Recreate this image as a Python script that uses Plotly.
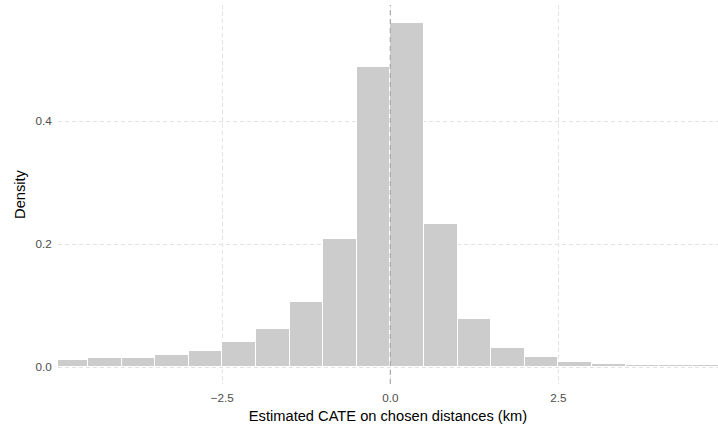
import plotly.graph_objects as go

# Histogram data (bin width 0.5)
bin_start = [-5.0, -4.5, -4.0, -3.5, -3.0, -2.5, -2.0, -1.5, -1.0, -0.5,
             0.0, 0.5, 1.0, 1.5, 2.0, 2.5, 3.0, 3.5, 4.0, 4.5]
density = [0.0122, 0.0148, 0.0159, 0.0197, 0.0272, 0.0414, 0.0630, 0.1062,
           0.2090, 0.4886, 0.5596, 0.2330, 0.0786, 0.0316, 0.0160, 0.0082,
           0.0054, 0.0044, 0.0044, 0.0034]
bin_width = 0.5

x_ticks = [-2.5, 0.0, 2.5]
y_ticks = [0.0, 0.2, 0.4]

centers = [b + bin_width / 2 for b in bin_start]

FONT = "Liberation Sans, Arial, Helvetica, sans-serif"

fig = go.Figure()
fig.add_trace(go.Bar(
    x=centers, y=density, width=bin_width,
    marker=dict(color="#cccccc", line=dict(color="white", width=1.0)),
    hoverinfo="skip", showlegend=False,
))

fig.add_vline(x=0, line=dict(color="#a8a8a8", width=1.2, dash="5px,4px"), layer="above")

fig.update_layout(
    width=718, height=430,
    margin=dict(l=58, r=0, t=5, b=46),
    paper_bgcolor="white", plot_bgcolor="white",
    font=dict(family=FONT, size=12, color="#4d4d4d"),
    bargap=0,
    xaxis=dict(
        range=[-4.945, 4.876], automargin=False,
        tickvals=x_ticks, ticktext=[f"{v:.1f}".replace("-", "\u2212") for v in x_ticks],
        showgrid=True, gridcolor="#e3e3e3", gridwidth=1, griddash="4px,3px",
        zeroline=False, showline=False,
        ticks="outside", ticklen=3, tickcolor="rgba(0,0,0,0)",
        tickfont=dict(size=11.7, color="#4d4d4d"),
        title=dict(text="Estimated CATE on chosen distances (km)",
                   font=dict(size=14.67, color="black"), standoff=7),
    ),
    yaxis=dict(
        range=[-0.0272, 0.5891], automargin=False,
        tickvals=y_ticks, ticktext=[f"{v:.1f}" for v in y_ticks],
        showgrid=True, gridcolor="#e3e3e3", gridwidth=1, griddash="4px,3px",
        zeroline=False, showline=False,
        ticks="outside", ticklen=3, tickcolor="rgba(0,0,0,0)",
        tickfont=dict(size=11.7, color="#4d4d4d"),
        title=dict(text="Density", font=dict(size=14.67, color="black"), standoff=6),
    ),
)

fig.write_html("out.html", config={"displayModeBar": False},
               post_script="document.body.style.margin='0';")
